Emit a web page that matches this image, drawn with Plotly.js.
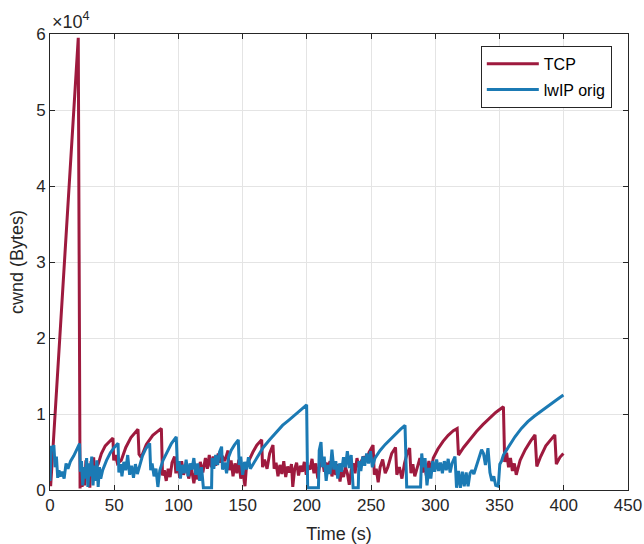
<!DOCTYPE html>
<html>
<head>
<meta charset="utf-8">
<script src="https://cdn.plot.ly/plotly-3.0.1.min.js"></script>
<style>html,body{margin:0;padding:0;background:#fff;}#chart{width:644px;height:544px;}</style>
</head>
<body>
<div id="chart"></div>
<script>
// Time axis ticks
const xTicks = [0, 50, 100, 150, 200, 250, 300, 350, 400, 450];
const yTickVals = [0, 10000, 20000, 30000, 40000, 50000, 60000];
const yTickText = ['0', '1', '2', '3', '4', '5', '6'];

// TCP series (time s, cwnd bytes)
const tcpT = [0.5, 22, 23.4, 24.2, 25, 26, 27, 28, 29, 30, 31, 32, 33, 34, 35, 36, 37.5, 40, 43, 46, 49, 49.6, 51, 52.5, 55.5, 59, 63, 68.5, 69.3, 71, 75, 80, 86.7, 87.6, 89, 90.5, 92, 93.5, 95, 97, 98, 99.5, 101, 102.5, 104, 106, 108, 110, 112, 113.5, 115, 117, 119, 121, 122.5, 124, 125.5, 127, 129, 131, 132.5, 134, 136, 138.6, 139.5, 141, 142.5, 144, 145.5, 147, 148.5, 150, 151.8, 153, 155, 158, 161, 164.8, 165.5, 167, 169, 171, 173.6, 174.5, 176, 177.5, 179, 180.5, 182, 183.5, 185, 186.5, 188, 189, 190.5, 192, 193.5, 195, 196.5, 198, 199.5, 201, 202.5, 204, 205.5, 207, 208.5, 210, 212, 213.5, 215, 216.5, 218, 219.5, 221, 222.5, 224, 225.8, 227, 228.5, 230, 231.5, 233, 234.5, 236, 237.5, 239, 240.5, 242, 244, 246, 248.5, 251.5, 252.5, 254, 255.5, 257, 259, 261, 263, 266, 269, 270, 272, 274, 276, 278, 280, 281, 282.5, 284, 286, 288, 290, 291.5, 293, 295, 296.5, 298.4, 302, 306, 310, 314, 317, 318, 322, 327, 332, 337, 342, 347, 353, 354, 355.5, 357, 358.5, 360, 361.5, 363, 366, 370, 374, 377.6, 379, 382, 386, 390, 393, 394.2, 397, 399.7];
const tcpCwnd = [500, 59500, 200, 3200, 400, 2800, 600, 3900, 1500, 3400, 300, 3800, 1800, 4300, 1200, 3000, 3400, 4800, 5800, 6400, 6850, 3900, 4600, 3500, 3900, 5600, 6900, 8000, 4700, 4300, 6000, 7200, 8100, 1900, 2600, 1200, 2800, 1700, 3600, 4400, 2200, 3600, 1600, 3800, 2000, 3400, 1500, 3000, 900, 2500, 1400, 3700, 2300, 4200, 2800, 4600, 3000, 4400, 3200, 4800, 3600, 4500, 3800, 5200, 2600, 3900, 1800, 3500, 2200, 4000, 1500, 2800, 500, 3200, 4000, 5000, 5900, 6600, 3000, 4000, 2800, 4800, 5900, 2800, 3600, 1800, 3300, 2100, 3800, 1700, 3100, 2300, 3400, 400, 2800, 3600, 1900, 3200, 2400, 3700, 2000, 3200, 2700, 4100, 2200, 3500, 1500, 3300, 4000, 2400, 3600, 2800, 3800, 1800, 3000, 2000, 3400, 1100, 2600, 1700, 3000, 2200, 700, 2600, 3500, 2200, 4200, 3000, 3600, 4400, 3800, 5000, 5900, 2000, 2800, 1000, 3000, 4000, 2200, 3000, 4800, 5600, 2000, 3000, 1500, 3500, 4800, 5500, 2200, 3400, 1800, 3200, 4200, 2300, 3500, 1900, 3800, 2400, 4200, 5400, 6400, 7200, 7800, 8100, 4600, 5600, 6700, 7700, 8600, 9400, 10200, 10950, 3700, 4900, 3000, 4200, 2500, 3500, 2000, 3900, 5300, 6400, 7250, 3100, 4400, 5800, 6700, 7250, 3400, 4300, 4800];

// lwIP orig series (time s, cwnd bytes)
const lwipT = [0, 1, 2, 3, 4, 5, 6, 7, 8, 9.5, 11, 12.5, 14, 16, 18.5, 21, 23, 23.6, 24.5, 25.5, 26.5, 27.5, 28.5, 29.5, 30.5, 31.5, 32.5, 33.5, 34.5, 35.5, 36.5, 37.5, 38.5, 39.5, 41, 44, 47, 50, 53, 53.6, 55, 56, 57.5, 59, 60.5, 62, 63.5, 65, 66.5, 68, 70, 72, 74.5, 77.6, 78.4, 79.5, 81, 82.5, 84, 85.5, 88, 91, 94.5, 98.3, 99.3, 100.5, 101.5, 103, 104.5, 106, 107.5, 109, 110.5, 112, 113.5, 115, 116.5, 118, 119.4, 125.8, 126.2, 127.5, 129, 130.5, 132, 133.6, 134.3, 136, 137.5, 139, 141, 143.5, 146.6, 147.3, 148.5, 150, 151.5, 153, 154.5, 156, 161, 166, 171, 176, 181, 186, 191, 196, 199.8, 200.6, 209, 209.6, 211, 212, 213.5, 215, 216.5, 218, 219.5, 221, 222.5, 224, 225.5, 227, 228.5, 230, 231.5, 233, 234.5, 236, 240, 240.5, 242, 243.5, 245, 246.5, 248, 249.5, 251, 253, 257, 261, 265, 269, 273, 276.4, 277.7, 288.5, 289.4, 290.5, 292, 293.5, 295, 296.5, 298, 299.5, 301, 302.5, 304, 305.5, 307, 308.5, 310, 311.5, 313, 315.3, 316.5, 318, 319.5, 321, 322.5, 324, 325.5, 327, 328.5, 330, 333, 336, 337.5, 339, 341, 342.5, 344, 345.5, 347, 349, 350.2, 351.5, 353, 357, 362, 367, 372, 377, 383, 388, 394, 399.7];
const lwipCwnd = [1200, 5800, 5200, 5900, 3000, 4400, 1600, 2600, 1800, 2400, 1500, 3500, 2800, 3800, 4500, 5300, 6100, 2400, 3800, 600, 3000, 1500, 4200, 400, 3500, 1800, 4400, 600, 3200, 1200, 3900, 400, 3000, 1500, 2600, 3900, 4900, 5600, 6150, 2300, 3400, 1800, 3700, 2600, 4600, 2000, 3200, 1600, 3400, 2100, 3500, 4500, 5400, 6150, 2600, 3500, 1800, 2800, 400, 2600, 3900, 5000, 6100, 7000, 2500, 3800, 1500, 3300, 2200, 4000, 1800, 3500, 2700, 4200, 2000, 3500, 1200, 3000, 300, 300, 4200, 2800, 4600, 3300, 5000, 5700, 2700, 3600, 2200, 4300, 5200, 5900, 6600, 3300, 4400, 2000, 3700, 2700, 4300, 2800, 4300, 5600, 6600, 7600, 8500, 9200, 9900, 10600, 11200, 300, 300, 5200, 6300, 3000, 4400, 1200, 3300, 2100, 5300, 2700, 3800, 1500, 3500, 2400, 4300, 3000, 5100, 2900, 4600, 300, 300, 3800, 2500, 4400, 3200, 4800, 3500, 5100, 3000, 4200, 5200, 6000, 6700, 7400, 8000, 8500, 400, 400, 4800, 3000, 4200, 600, 2900, 1500, 3800, 2400, 4000, 2500, 3600, 2200, 3800, 2600, 4100, 2300, 3500, 4400, 300, 2500, 300, 2400, 500, 2300, 500, 2200, 2600, 2100, 3600, 5300, 4800, 3300, 5500, 2300, 1200, 1800, 600, 500, 3400, 3800, 4600, 5700, 7000, 8100, 9000, 9700, 10400, 11100, 11800, 12500];

const seriesNames = ['TCP', 'lwIP orig'];

const traces = [
  {x: tcpT, y: tcpCwnd, type: 'scatter', mode: 'lines', name: seriesNames[0],
   line: {color: '#9E1A3E', width: 3}, legendgroup: 'a'},
  {x: lwipT, y: lwipCwnd, type: 'scatter', mode: 'lines', name: seriesNames[1],
   line: {color: '#1B7AB4', width: 3}, legendgroup: 'b'}
];

const axisCommon = {
  showgrid: true, gridcolor: '#e4e4e4', gridwidth: 1,
  showline: true, linecolor: '#262626', linewidth: 1, mirror: 'ticks',
  ticks: 'inside', ticklen: 5, tickcolor: '#262626',
  zeroline: false, tickfont: {size: 17, color: '#262626'}
};

const layout = {
  width: 644, height: 544,
  margin: {l: 50, r: 16, t: 34, b: 54},
  paper_bgcolor: '#ffffff', plot_bgcolor: '#ffffff',
  font: {family: 'Liberation Sans, Arial, sans-serif', size: 16, color: '#262626'},
  showlegend: true,
  xaxis: Object.assign({}, axisCommon, {
    range: [0, 450], tickvals: xTicks, ticktext: xTicks.map(String),
    title: {text: 'Time (s)', font: {size: 18, color: '#262626'}}
  }),
  yaxis: Object.assign({}, axisCommon, {
    range: [0, 60000], tickvals: yTickVals, ticktext: yTickText
  }),
  legend: {
    x: 0.972, y: 0.974, xanchor: 'right', yanchor: 'top',
    bgcolor: '#ffffff', bordercolor: '#262626', borderwidth: 1,
    font: {size: 16, color: '#000000'}, itemwidth: 52,
    traceorder: 'grouped', tracegroupgap: 2
  },
  annotations: [
    {xref: 'paper', yref: 'paper', x: 0, y: 1, xanchor: 'left', yanchor: 'bottom',
     text: '×10<sup>4</sup>', showarrow: false, font: {size: 18, color: '#262626'}},
    {xref: 'paper', yref: 'paper', x: -0.057, y: 0.5, xanchor: 'center', yanchor: 'middle',
     text: 'cwnd (Bytes)', textangle: -90, showarrow: false, font: {size: 18, color: '#262626'}}
  ]
};

Plotly.newPlot('chart', traces, layout, {displayModeBar: false, staticPlot: true});
</script>
</body>
</html>
